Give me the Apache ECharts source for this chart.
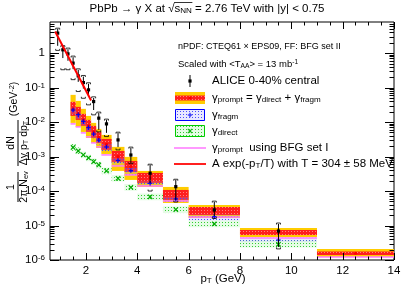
<!DOCTYPE html>
<html><head><meta charset="utf-8">
<script src="https://cdn.jsdelivr.net/npm/echarts@6/dist/echarts.min.js"></script>
<style>html,body{margin:0;padding:0;background:#fff}#c{width:415px;height:289px}</style>
</head><body><div id="c"></div>
<script>
// ---------------- data ----------------
const binLo  = [1.4,1.6,1.8,2.0,2.2,2.4,2.6,3.0,3.5,4,5,6,8,11];
const binHi  = [1.6,1.8,2.0,2.2,2.4,2.6,3.0,3.5,4.0,5,6,8,11,14];
const promptC = [0.0242,0.0179,0.0116,0.00776,0.00519,0.0036,0.00226,0.00100,5.2e-4,2.4e-4,7.7e-5,2.64e-5,6.3e-6,1.57e-6];
const goldHi  = [0.0616,0.0412,0.0242,0.0151,0.00948,0.00635,0.00425,0.00191,9.77e-4,3.83e-4,1.315e-4,3.95e-5,8.49e-6,2.09e-6];
const goldLo  = [0.00948,0.00726,0.00518,0.00348,0.00249,0.00178,0.00119,3.83e-4,2.10e-4,1.315e-4,4.51e-5,1.656e-5,4.65e-6,1.22e-6];
const redHi   = [0.0386,0.0276,0.0173,0.0116,0.00776,0.00519,0.00325,0.00146,7.47e-4,3.35e-4,1.076e-4,3.46e-5,7.43e-6,1.765e-6];
const redLo   = [0.0151,0.0116,0.00776,0.00519,0.00348,0.00249,0.00156,6.99e-4,3.58e-4,1.72e-4,5.52e-5,2.02e-5,5.32e-6,1.40e-6];
const fragmC  = [0.0224,0.0164,0.0104,0.0069,0.0045,0.0030,0.0019,7.7e-4,3.9e-4,1.68e-4,5.9e-5,1.8e-5,3.8e-6,8e-7];
const fragmLo = [0.0168,0.0123,0.0078,0.0052,0.0034,0.00225,0.00143,5.8e-4,2.9e-4,1.40e-4,4.9e-5,1.4e-5,3.4e-6,7e-7];
const fragmHi = [0.0269,0.0197,0.0125,0.0083,0.0054,0.0036,0.00228,9.2e-4,4.7e-4,1.95e-4,6.8e-5,2.1e-5,4.4e-6,9e-7];
const directC  = [1.84e-3,1.46e-3,1.12e-3,9.1e-4,7.1e-4,5.7e-4,3.85e-4,2.35e-4,1.28e-4,6.8e-5,2.9e-5,1.11e-5,2.86e-6,8e-7];
const directLo = [1.47e-3,1.17e-3,9.0e-4,7.3e-4,5.7e-4,4.6e-4,3.1e-4,1.9e-4,1.02e-4,5.4e-5,2.3e-5,8.9e-6,2.3e-6,6.4e-7];
const directHi = [2.3e-3,1.83e-3,1.4e-3,1.14e-3,8.9e-4,7.1e-4,4.8e-4,2.9e-4,1.6e-4,8.5e-5,3.6e-5,1.39e-5,3.6e-6,1.0e-6];
const bfgSetI  = [8.87e-3,7.26e-3,4.86e-3,3.72e-3,2.49e-3,1.91e-3,1.116e-3,5.35e-4,2.93e-4,1.406e-4,5.16e-5,1.77e-5,4.35e-6,1.22e-6];

const aliceX  = [0.9,1.1,1.3,1.5,1.7,1.9,2.1,2.3,2.5,2.8,3.25,3.75,4.5,5.5,7.0,9.5];
const aliceY  = [3.81,1.25,0.95,0.513,0.219,0.140,0.0861,0.0394,0.0130,0.00887,0.00304,0.00111,3.29e-4,1.34e-4,2.83e-5,6.93e-6];
const aliceStatLo = [1.63,0.72,0.60,0.344,0.147,0.094,0.0577,0.0224,0.00594,0.00487,0.0019,6.55e-4,1.72e-4,5.52e-5,1.89e-5,2.39e-6];
const aliceStatHi = [5.07,1.55,1.30,0.766,0.327,0.209,0.129,0.050,0.0185,0.0116,0.00486,0.00178,5.73e-4,2.1e-4,4.83e-5,1.11e-5];
const aliceSysLo  = [1.2,0.33,0.33,0.17,0.077,0.049,0.0316,0.0162,0.0052,0.0038,0.00156,6.2e-4,1.0e-4,4.8e-5,1.6e-5,2.1e-6];
const aliceSysHi  = [5.3,1.65,1.40,0.82,0.35,0.225,0.138,0.054,0.0195,0.0122,0.0051,0.00188,6.0e-4,2.2e-4,5.1e-5,1.18e-5];

const fitX = [0.8, 2.2];
const fitY = [4.24, 0.0424];

const xTickLabels = [2,4,6,8,10,12,14];
const yTickLabels = [1e-6,1e-5,1e-4,1e-3,1e-2,1e-1,1];

// ---------------- styling ----------------
const FONT = "'Liberation Sans', Arial, Helvetica, sans-serif";
const X_MIN = 0.6, X_MAX = 14, Y_MIN = 1e-6, Y_MAX = 8;

function pattern(dot, bg, size) {
  const c = document.createElement('canvas'); c.width = size; c.height = size;
  const ctx = c.getContext('2d');
  if (bg) { ctx.fillStyle = bg; ctx.fillRect(0, 0, size, size); }
  ctx.fillStyle = dot; ctx.fillRect(0, 0, 1, 1);
  return { image: c, repeat: 'repeat' };
}
const GOLD = '#ffcc00';
const RED = pattern('#ff8080', '#ff1e1e', 3);
const FRAGM_FILL = pattern('#4a4aff', 'rgba(150,150,255,0.22)', 3);
const DIRECT_FILL = pattern('#33cc33', 'rgba(110,240,110,0.18)', 3);
const MAGENTA = '#ff77ff';
const LEG_FS = 11.5;

function richFor(fs) {
  const p = Math.round(fs * 0.3);
  return {
    n:   { fontSize: fs, fontFamily: FONT, lineHeight: fs + 1, padding: [p, 0, p, 0], verticalAlign: 'middle', fill: '#000' },
    sub: { fontSize: fs * 0.7, fontFamily: FONT, lineHeight: fs * 0.7 + 1, verticalAlign: 'bottom', fill: '#000' },
    sup: { fontSize: fs * 0.7, fontFamily: FONT, lineHeight: fs * 0.7 + 1, verticalAlign: 'top', fill: '#000' }
  };
}
function txt(text, x, y, fs, align) {
  return { type: 'text', x: x, y: y, silent: true, z: 100,
    style: { text: text, fill: '#000', fontFamily: FONT, fontSize: fs, align: align || 'left', verticalAlign: 'middle', rich: richFor(fs) } };
}

function clipRect(r, cs) {
  const x1 = Math.max(r.x, cs.x), x2 = Math.min(r.x + r.width, cs.x + cs.width);
  const y1 = Math.max(r.y, cs.y), y2 = Math.min(r.y + r.height, cs.y + cs.height);
  if (x2 <= x1 || y2 <= y1) return null;
  return { x: x1, y: y1, width: x2 - x1, height: y2 - y1 };
}
function inside(p, cs) {
  return p[0] >= cs.x - 0.5 && p[0] <= cs.x + cs.width + 0.5 && p[1] >= cs.y - 0.5 && p[1] <= cs.y + cs.height + 0.5;
}

function boxSeries(lo, hi, fill) {
  return {
    type: 'custom', silent: true, animation: false,
    data: binLo.map((b, i) => [b, binHi[i], lo[i], hi[i]]),
    encode: { x: [0, 1], y: [2, 3] },
    renderItem: function (params, api) {
      const p1 = api.coord([api.value(0), api.value(3)]);
      const p2 = api.coord([api.value(1), api.value(2)]);
      const r = clipRect({ x: p1[0], y: p1[1], width: p2[0] - p1[0], height: p2[1] - p1[1] }, params.coordSys);
      if (!r) return null;
      return { type: 'rect', shape: r, style: { fill: fill } };
    }
  };
}
function markerSeries(vals, kind, color) {
  return {
    type: 'custom', silent: true, animation: false,
    data: binLo.map((b, i) => [(b + binHi[i]) / 2, vals[i]]),
    encode: { x: 0, y: 1 },
    renderItem: function (params, api) {
      const p = api.coord([api.value(0), api.value(1)]);
      if (!inside(p, params.coordSys)) return null;
      const s = 2.2, st = { stroke: color, lineWidth: 1.2 };
      if (kind === 'dot') return { type: 'circle', shape: { cx: p[0], cy: p[1], r: 1.6 }, style: { fill: color } };
      if (kind === 'plus') return { type: 'group', children: [
        { type: 'line', shape: { x1: p[0] - s, y1: p[1], x2: p[0] + s, y2: p[1] }, style: st },
        { type: 'line', shape: { x1: p[0], y1: p[1] - s, x2: p[0], y2: p[1] + s }, style: st }] };
      return { type: 'group', children: [
        { type: 'line', shape: { x1: p[0] - s, y1: p[1] - s, x2: p[0] + s, y2: p[1] + s }, style: st },
        { type: 'line', shape: { x1: p[0] - s, y1: p[1] + s, x2: p[0] + s, y2: p[1] - s }, style: st }] };
    }
  };
}

// tick specs: [x, y, length, orientation(0 = x tick, 1 = y tick)]
const tickData = [];
xTickLabels.forEach(v => tickData.push([v, 1e-3, 7, 0]));
for (let k = 2; k <= 27; k++) { const v = k / 2; if (k % 4 !== 0) tickData.push([v, 1e-3, 3.5, 0]); }
yTickLabels.forEach(v => tickData.push([2, v, 9, 1]));
for (let e = -6; e <= 0; e++) for (let m = 2; m <= 9; m++) { const v = m * Math.pow(10, e); if (v < Y_MAX) tickData.push([2, v, 4.5, 1]); }

// title overline for the square root (measured from the real text)
const TITLE_FS = 11.5, TITLE_CX = 207, TITLE_Y = 9;
const mctx = document.createElement('canvas').getContext('2d');
function tw(s, fs) { mctx.font = fs + "px 'Liberation Sans', Arial, sans-serif"; return mctx.measureText(s).width; }
const t1 = 'PbPb → γ X at √', t2 = 's', t3 = 'NN', t4 = ' = 2.76 TeV with |y| < 0.75';
const tTot = tw(t1, TITLE_FS) + tw(t2, TITLE_FS) + tw(t3, TITLE_FS * 0.7) + tw(t4, TITLE_FS);
const ovX1 = TITLE_CX - tTot / 2 + tw(t1, TITLE_FS) - 0.5;
const ovX2 = ovX1 + 0.5 + tw(t2, TITLE_FS) + tw(t3, TITLE_FS * 0.7) + 0.5;

const option = {
  animation: false,
  backgroundColor: '#fff',
  grid: { left: 50, top: 22, width: 344, height: 238, show: true, borderColor: '#000', borderWidth: 1, containLabel: false, outerBoundsMode: 'none' },
  xAxis: {
    type: 'value', min: X_MIN, max: X_MAX,
    axisLine: { show: false }, axisTick: { show: false }, splitLine: { show: false },
    axisLabel: { customValues: xTickLabels, color: '#000', fontFamily: FONT, fontSize: 11.5, margin: 5 }
  },
  yAxis: {
    type: 'log', logBase: 10, min: Y_MIN, max: Y_MAX,
    axisLine: { show: false }, axisTick: { show: false }, splitLine: { show: false }, minorTick: { show: false },
    axisLabel: {
      margin: 5, color: '#000', fontFamily: FONT, fontSize: 11.5,
      formatter: function (v) {
        const e = Math.log10(v), r = Math.round(e);
        if (Math.abs(e - r) > 1e-6) return '';
        return r === 0 ? '{n|1}' : '{n|10}{e|' + r + '}';
      },
      rich: {
        n: { fontSize: 11.5, fontFamily: FONT, color: '#000', lineHeight: 12, padding: [3, 0, 3, 0], verticalAlign: 'middle' },
        e: { fontSize: 8, fontFamily: FONT, color: '#000', lineHeight: 8, verticalAlign: 'top' }
      }
    }
  },
  series: [
    boxSeries(goldLo, goldHi, GOLD),
    boxSeries(redLo, redHi, RED),
    boxSeries(fragmLo, fragmHi, FRAGM_FILL),
    boxSeries(directLo, directHi, DIRECT_FILL),
    {
      type: 'custom', silent: true, animation: false,
      data: binLo.map((b, i) => [b, binHi[i], bfgSetI[i]]),
      encode: { x: [0, 1], y: 2 },
      renderItem: function (params, api) {
        const p1 = api.coord([api.value(0), api.value(2)]);
        const p2 = api.coord([api.value(1), api.value(2)]);
        if (!inside(p1, params.coordSys)) return null;
        return { type: 'line', shape: { x1: p1[0], y1: p1[1], x2: p2[0], y2: p2[1] }, style: { stroke: MAGENTA, lineWidth: 1.5 } };
      }
    },
    markerSeries(promptC, 'dot', '#ff0000'),
    markerSeries(fragmC, 'plus', '#0000ee'),
    markerSeries(directC, 'x', '#00aa00'),
    {
      type: 'line', silent: true, symbol: 'none', animation: false,
      data: fitX.map((x, i) => [x, fitY[i]]),
      lineStyle: { color: '#ff0000', width: 2 }
    },
    {
      type: 'custom', silent: true, animation: false,
      data: aliceX.map((x, i) => [x, aliceY[i], aliceStatLo[i], aliceStatHi[i], aliceSysLo[i], aliceSysHi[i]]),
      encode: { x: 0, y: [1, 2, 3, 4, 5] },
      renderItem: function (params, api) {
        const x = api.value(0);
        const c = api.coord([x, api.value(1)]);
        const sl = api.coord([x, api.value(2)]), sh = api.coord([x, api.value(3)]);
        const yl = api.coord([x, api.value(4)]), yh = api.coord([x, api.value(5)]);
        const st = { stroke: '#000', lineWidth: 1 };
        const w = 2;
        return { type: 'group', children: [
          { type: 'line', shape: { x1: c[0], y1: sh[1], x2: c[0], y2: sl[1] }, style: st },
          { type: 'polyline', shape: { points: [[c[0] - w, yh[1] + 1.5], [c[0] - w, yh[1]], [c[0] + w, yh[1]], [c[0] + w, yh[1] + 1.5]] }, style: { stroke: '#000', lineWidth: 0.8, fill: null } },
          { type: 'polyline', shape: { points: [[c[0] - w, yl[1] - 1.5], [c[0] - w, yl[1]], [c[0] + w, yl[1]], [c[0] + w, yl[1] - 1.5]] }, style: { stroke: '#000', lineWidth: 0.8, fill: null } },
          { type: 'rect', shape: { x: c[0] - 1.6, y: c[1] - 1.6, width: 3.2, height: 3.2 }, style: { fill: '#000' } }
        ] };
      }
    },
    {
      type: 'custom', silent: true, animation: false, z: 10,
      data: tickData,
      encode: { x: 0, y: 1 },
      renderItem: function (params, api) {
        const cs = params.coordSys, len = api.value(2), st = { stroke: '#000', lineWidth: 1 };
        if (api.value(3) === 0) {
          const px = Math.round(api.coord([api.value(0), 1e-3])[0]) + 0.5;
          return { type: 'group', children: [
            { type: 'line', shape: { x1: px, y1: cs.y + cs.height, x2: px, y2: cs.y + cs.height - len }, style: st },
            { type: 'line', shape: { x1: px, y1: cs.y, x2: px, y2: cs.y + len }, style: st }] };
        }
        const py = Math.round(api.coord([2, api.value(1)])[1]) + 0.5;
        return { type: 'group', children: [
          { type: 'line', shape: { x1: cs.x, y1: py, x2: cs.x + len, y2: py }, style: st },
          { type: 'line', shape: { x1: cs.x + cs.width, y1: py, x2: cs.x + cs.width - len, y2: py }, style: st }] };
      }
    }
  ],
  graphic: [
    txt('{n|' + t1 + t2 + '}{sub|' + t3 + '}{n|' + t4 + '}', TITLE_CX, TITLE_Y, TITLE_FS, 'center'),
    { type: 'line', silent: true, z: 100, shape: { x1: ovX1, y1: 2.5, x2: ovX2, y2: 2.5 }, style: { stroke: '#000', lineWidth: 0.8 } },
    txt('{n|nPDF: CTEQ61 × EPS09, FF: BFG set II}', 178, 47, 9),
    txt('{n|Scaled with <T}{sub|AA}{n|> = 13 mb}{sup|-1}', 178, 64, 9.5),
    txt('{n|ALICE 0-40% central}', 212, 81, LEG_FS),
    txt('{n|γ}{sub|prompt}{n| = γ}{sub|direct}{n| + γ}{sub|fragm}', 212, 98, LEG_FS),
    txt('{n|γ}{sub|fragm}', 212, 115, LEG_FS),
    txt('{n|γ}{sub|direct}', 212, 131, LEG_FS),
    txt('{n|γ}{sub|prompt}{n|  using BFG set I}', 212, 148, LEG_FS),
    txt('{n|A exp(-p}{sub|T}{n|/T) with T = 304 ± 58 MeV}', 212, 164, LEG_FS),
    // legend symbols
    { type: 'line', silent: true, z: 100, shape: { x1: 190, y1: 75, x2: 190, y2: 87 }, style: { stroke: '#000', lineWidth: 1 } },
    { type: 'rect', silent: true, z: 100, shape: { x: 188.4, y: 79.4, width: 3.2, height: 3.2 }, style: { fill: '#000' } },
    { type: 'rect', silent: true, z: 100, shape: { x: 175, y: 92, width: 30, height: 12 }, style: { fill: GOLD } },
    { type: 'rect', silent: true, z: 100, shape: { x: 175, y: 95.5, width: 30, height: 5 }, style: { fill: RED } },
    { type: 'circle', silent: true, z: 100, shape: { cx: 190, cy: 98, r: 1.6 }, style: { fill: '#ff0000' } },
    { type: 'rect', silent: true, z: 100, shape: { x: 175.5, y: 109.5, width: 29, height: 11 }, style: { fill: FRAGM_FILL, stroke: '#0000ff', lineWidth: 1 } },
    { type: 'group', silent: true, z: 100, children: [
      { type: 'line', shape: { x1: 187.8, y1: 115, x2: 192.2, y2: 115 }, style: { stroke: '#0000ee', lineWidth: 1.2 } },
      { type: 'line', shape: { x1: 190, y1: 112.8, x2: 190, y2: 117.2 }, style: { stroke: '#0000ee', lineWidth: 1.2 } }] },
    { type: 'rect', silent: true, z: 100, shape: { x: 175.5, y: 125.5, width: 29, height: 11 }, style: { fill: DIRECT_FILL, stroke: '#00cc00', lineWidth: 1 } },
    { type: 'group', silent: true, z: 100, children: [
      { type: 'line', shape: { x1: 187.8, y1: 128.8, x2: 192.2, y2: 133.2 }, style: { stroke: '#00aa00', lineWidth: 1.2 } },
      { type: 'line', shape: { x1: 187.8, y1: 133.2, x2: 192.2, y2: 128.8 }, style: { stroke: '#00aa00', lineWidth: 1.2 } }] },
    { type: 'line', silent: true, z: 100, shape: { x1: 174, y1: 148, x2: 206, y2: 148 }, style: { stroke: MAGENTA, lineWidth: 1.5 } },
    { type: 'line', silent: true, z: 100, shape: { x1: 174, y1: 164, x2: 206, y2: 164 }, style: { stroke: '#ff2020', lineWidth: 2 } },
    // x axis title
    txt('{n|p}{sub|T}{n| (GeV)}', 223, 279, 11.5, 'center'),
    // y axis title (rotated)
    { type: 'group', x: 18, y: 145, rotation: Math.PI / 2, silent: true, z: 100, children: [
      { type: 'text', x: -42, y: -1, style: { text: '1', fill: '#000', fontFamily: FONT, fontSize: 10.5, align: 'center', verticalAlign: 'bottom' } },
      { type: 'line', shape: { x1: -57, y1: 0, x2: -27, y2: 0 }, style: { stroke: '#000', lineWidth: 1 } },
      { type: 'text', x: -42, y: 6, style: { text: '{n|2π N}{sub|ev}', fill: '#000', fontFamily: FONT, fontSize: 10.5, align: 'center', verticalAlign: 'middle', rich: richFor(10.5) } },
      { type: 'text', x: 2, y: -1, style: { text: 'dN', fill: '#000', fontFamily: FONT, fontSize: 10.5, align: 'center', verticalAlign: 'bottom' } },
      { type: 'line', shape: { x1: -21, y1: 0, x2: 25, y2: 0 }, style: { stroke: '#000', lineWidth: 1 } },
      { type: 'text', x: 2, y: 6, style: { text: '{n|Δy p}{sub|T}{n| dp}{sub|T}', fill: '#000', fontFamily: FONT, fontSize: 10.5, align: 'center', verticalAlign: 'middle', rich: richFor(10.5) } },
      { type: 'text', x: 46, y: -4, style: { text: '{n|(GeV}{sup|-2}{n|)}', fill: '#000', fontFamily: FONT, fontSize: 10.5, align: 'center', verticalAlign: 'middle', rich: richFor(10.5) } }
    ] }
  ]
};
const chart = echarts.init(document.getElementById('c'), null, { renderer: 'canvas', width: 415, height: 289 });
chart.setOption(option);
</script>
</body></html>
